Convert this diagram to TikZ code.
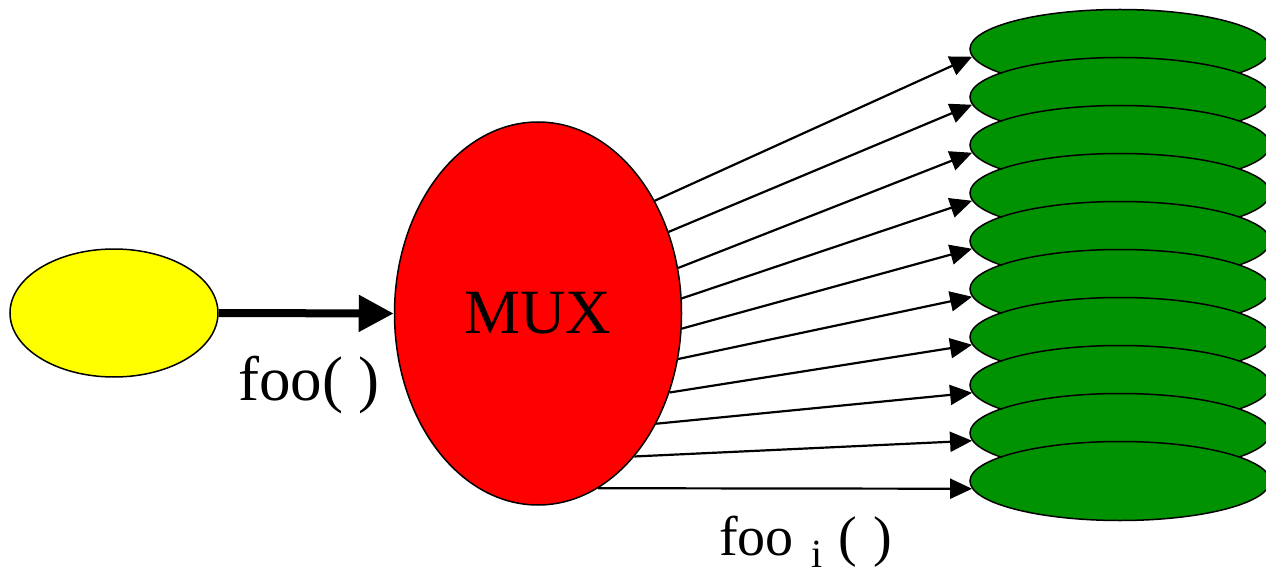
\documentclass[tikz,border=0pt]{standalone}
\usepackage{fontspec}
\setmainfont{Liberation Serif}
\usetikzlibrary{shapes.geometric,arrows.meta}
\definecolor{ggreen}{RGB}{0,146,0}
\definecolor{yyellow}{RGB}{255,255,0}
\tikzset{
  blob/.style={ellipse,draw=black,line width=1.5pt,inner sep=0pt},
  thinarrow/.style={line width=2.2pt,-{Triangle[length=22pt,width=20pt]}},
  thickarrow/.style={line width=8pt,-{Triangle[length=35pt,width=35pt]}},
  lbl/.style={inner sep=0pt,font=\fontsize{63}{70}\selectfont}
}
\begin{document}
\begin{tikzpicture}[x=1pt,y=-1pt]
\useasboundingbox (0,0) rectangle (1266,580);
\clip (0,0) rectangle (1266,580);
\node[blob,fill=yyellow,minimum width=208pt,minimum height=128pt] (src) at (114,313) {};
\node[blob,fill=red,minimum width=287pt,minimum height=383pt,font=\fontsize{63}{70}\selectfont] (mux) at (538,313.5) {MUX};
\foreach \i in {0,...,9}
  \node[blob,fill=ggreen,minimum width=300pt,minimum height=79pt] (g\i) at (1120,{49+48*\i}) {};
\draw[thickarrow] (src.east) -- (mux.west);
\foreach \a [count=\i from 0] in {44,32,18,6,-6,-18,-31,-43,-56,-71}
  \draw[thinarrow] (mux.\a) -- (g\i.183);
\node[lbl,anchor=base west] (lab1) at (238,400) {foo( )};
\node[inner sep=0pt,anchor=base west,font=\fontsize{56}{62}\selectfont] (lab2) at (719,555)
  {foo\hspace{18pt}\raisebox{-12pt}{\fontsize{40}{44}\selectfont i}\hspace{16pt}(\hspace{16pt})};
\end{tikzpicture}
\end{document}
